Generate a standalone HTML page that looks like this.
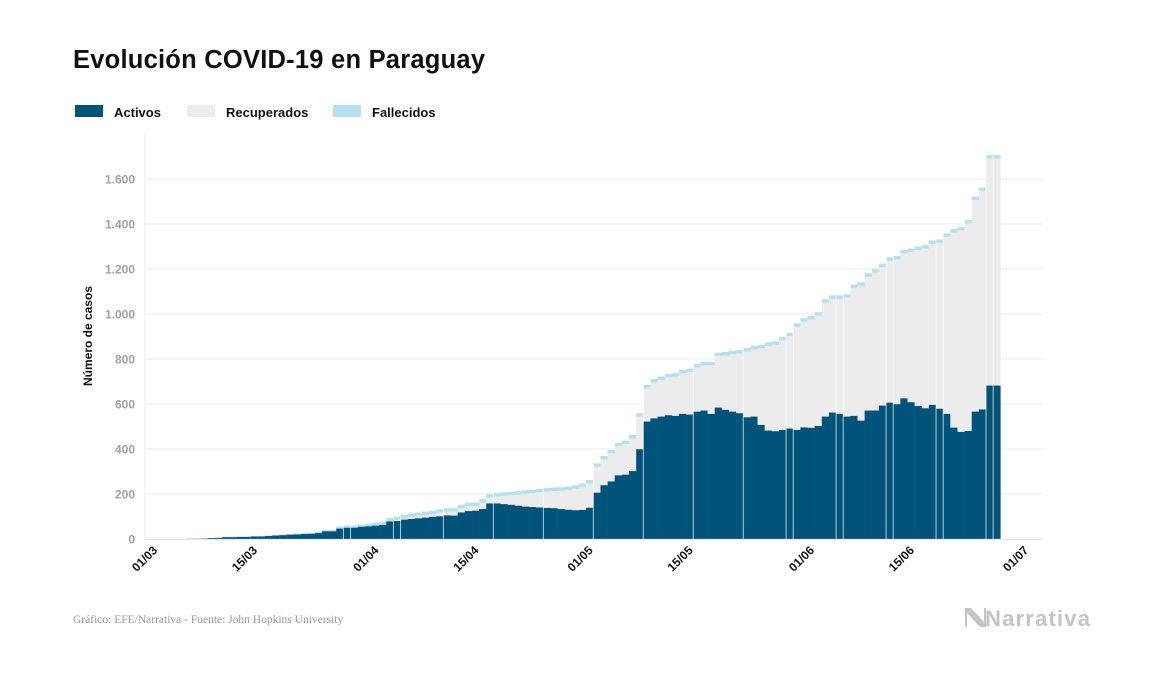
<!DOCTYPE html>
<html><head><meta charset="utf-8">
<style>
html,body{margin:0;padding:0;background:#fff;}
body{width:1157px;height:674px;overflow:hidden;font-family:"Liberation Sans",sans-serif;}
</style></head>
<body>
<svg id="chart" width="1157" height="674" viewBox="0 0 1157 674" xmlns="http://www.w3.org/2000/svg">
<text x="73" y="68" font-family="Liberation Sans, sans-serif" font-weight="bold" font-size="25.5" fill="#111" textLength="412">Evolución COVID-19 en Paraguay</text>
<g font-family="Liberation Sans, sans-serif" font-weight="bold" font-size="13" fill="#111">
  <g><rect x="75" y="105" width="28" height="12" fill="#02537a"/><text x="114" y="117">Activos</text></g>
  <g><rect x="187" y="105" width="28" height="12" fill="#ececec"/><text x="226" y="117">Recuperados</text></g>
  <g><rect x="333" y="105" width="28" height="12" fill="#b5e0ef"/><text x="372" y="117">Fallecidos</text></g>
</g>
<g id="grid"></g>
<g id="bars"></g>
<g id="axes"></g>
<text transform="translate(92,336) rotate(-90)" text-anchor="middle" font-family="Liberation Sans, sans-serif" font-weight="bold" font-size="12" fill="#111">Número de casos</text>
<text x="73" y="623" font-family="Liberation Serif, serif" font-size="11.5" fill="#999">Gráfico: EFE/Narrativa - Fuente: John Hopkins University</text>
<g>
  <path d="M965 608 L971 608 L984 622 L984 608 L986 608 L986 627 L980 627 L967 613 L967 627 L965 627 Z" fill="#c4c4c4"/>
  <text x="985" y="626" font-family="Liberation Sans, sans-serif" font-weight="bold" font-size="22" fill="#c4c4c4" textLength="105">Narrativa</text>
</g>
</svg>
<script>
// Data: day index 0 = 01/03
const dayLabels = ["01/03","15/03","01/04","15/04","01/05","15/05","01/06","15/06","01/07"];
const tickDays = [0,14,31,45,61,75,92,106,122];
const yTicks = [0,200,400,600,800,1000,1200,1400,1600];
const yTickLabels = ["0","200","400","600","800","1.000","1.200","1.400","1.600"];
const confirmados = [0,0,0,0,0,0,1,1,2,5,6,
10,10,11,11,13,13,16,18,20,22,25,27,28,31,40,40,55,60,60,64,67,71,77,94,100,107,113,117,122,126,132,137,137,152,162,162,177,200,204,207,210,213,216,219,223,226,229,230,233,239,
247,262,336,369,396,428,437,462,559,685,711,722,734,737,751,757,778,787,787,828,831,836,840,849,858,863,874,879,897,917,959,981,991,1008,1066,1083,1083,1088,1131,1141,1181,1200,1224,1252,1258,1285,1291,1300,1306,1326,1332,1358,1377,1387,1418,1522,1562,1706,1706];
const activos = [0,0,0,0,0,0,1,1,2,4,5,
8,8,9,9,11,11,13,15,17,19,20,22,23,26,34,34,46,50,50,54,56,59,62,78,80,86,89,92,95,98,101,105,104,118,124,126,133,158,158,155,152,148,144,142,140,138,137,133,130,128,
129,139,206,239,256,283,286,302,399,522,536,544,550,547,556,553,566,571,556,584,574,566,559,541,544,507,482,479,485,491,485,496,494,502,544,562,556,544,547,526,571,571,593,606,599,625,608,591,581,596,579,556,495,476,480,566,576,682,682];
const fallecidos = [0,0,0,0,0,0,0,0,0,0,0,
0,0,0,0,0,0,0,0,1,1,1,1,1,1,3,3,3,3,3,3,3,3,3,5,5,5,5,5,5,5,6,6,7,7,8,8,8,8,8,8,8,8,8,8,9,9,9,9,9,9,
10,10,10,10,10,10,10,10,10,11,11,11,11,11,11,11,11,11,11,11,11,11,11,11,11,11,11,11,11,11,11,11,11,11,11,11,11,11,11,11,11,11,11,11,11,11,11,11,11,11,11,11,11,11,11,12,13,13,13];
const weekBreaks = [28,29,35,36,42,49,56,63,70,77,84,90,91,97,98,104,105,111,112,118,119];

const NS="http://www.w3.org/2000/svg";
const X0=143.5, DW=7.14, Y0=539, KY=360/1600;
const xs = d => X0 + d*DW;
const ys = v => Y0 - v*KY;
function mk(tag, attrs, parent){const e=document.createElementNS(NS,tag);for(const k in attrs)e.setAttribute(k,attrs[k]);parent.appendChild(e);return e;}
const grid=document.getElementById('grid'), bars=document.getElementById('bars'), axes=document.getElementById('axes');

yTicks.forEach((t,i)=>{
  if(t>0){const l=mk('line',{x1:145,x2:1042,y1:ys(t),y2:ys(t),stroke:'#efefef','stroke-width':1.2},grid);
  
  }
  const tx=mk('text',{x:135,y:ys(t)+4.5,'text-anchor':'end','font-family':'Liberation Sans, sans-serif','font-weight':'bold','font-size':12,fill:'#a0a0a0'},axes);
  tx.textContent=yTickLabels[i];
  
  
});
const ax=mk('line',{x1:145,x2:145,y1:133,y2:539,stroke:'#eeeeee','stroke-width':1.2},axes);


const bx=mk('line',{x1:145,x2:1042,y1:539.5,y2:539.5,stroke:'#e6e6e6','stroke-width':1.2},axes);



confirmados.forEach((tot,d)=>{
  if(tot<=0)return;
  const a=activos[d], f=fallecidos[d];
  const band=tot>=8?Math.max(f*KY,3.5):Math.max(f*KY,0.6);
  const x=xs(d), w=DW+0.3;
  const topY=ys(tot);
  const aY=ys(a);
  const r=mk('rect',{x:x,y:topY+band,width:w,height:Math.max(aY-topY-band,0),fill:'#ececec'},bars);
  
  
  const fb=mk('rect',{x:x,y:topY,width:w,height:band,fill:'#b5e0ef'},bars);
  
  
  const ab=mk('rect',{x:x,y:aY,width:w,height:Y0-aY,fill:'#02537a'},bars);
  
  
});
weekBreaks.forEach(d=>{
  const tot=confirmados[d]; if(!tot)return;
  const l=mk('line',{x1:xs(d),x2:xs(d),y1:ys(tot),y2:Y0,stroke:'#ffffff','stroke-width':1,'stroke-opacity':0.7},bars);
  
  
});
tickDays.forEach((d,i)=>{
  const x=xs(d)+DW/2+11;
  const t=mk('text',{x:x,y:551,'text-anchor':'end',transform:`rotate(-45 ${x} 551)`,'font-family':'Liberation Sans, sans-serif','font-weight':'bold','font-size':12,fill:'#111'},axes);
  t.textContent=dayLabels[i];
  
  
});
</script>
</body></html>
